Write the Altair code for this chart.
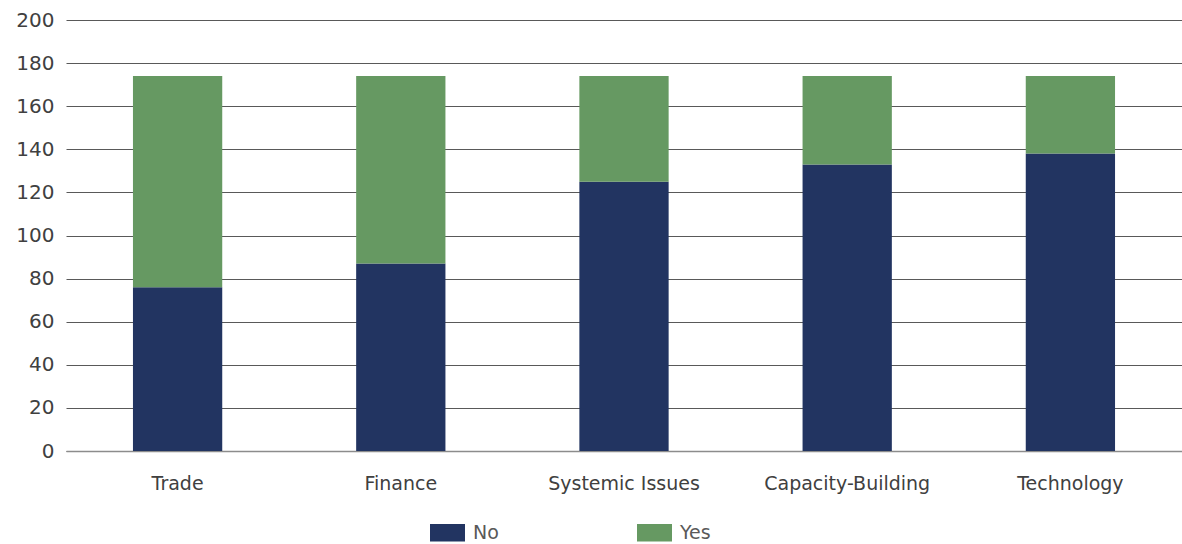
import altair as alt
import pandas as pd

categories = ["Trade", "Finance", "Systemic Issues", "Capacity-Building", "Technology"]
no_values = [76, 87, 125, 133, 138]
yes_values = [98, 87, 49, 41, 36]
series = ["No", "Yes"]
colors = ["#223461", "#669962"]
y_ticks = [0, 20, 40, 60, 80, 100, 120, 140, 160, 180, 200]

rows = []
for c, n, y in zip(categories, no_values, yes_values):
    rows.append({"category": c, "series": "No", "value": n, "ord": 0})
    rows.append({"category": c, "series": "Yes", "value": y, "ord": 1})
df = pd.DataFrame(rows)

FONT = "DejaVu Sans"

chart = alt.Chart(df).mark_bar().encode(
    x=alt.X("category:N", sort=categories, title=None,
            scale=alt.Scale(paddingInner=0.6, paddingOuter=0.3),
            axis=alt.Axis(labelAngle=0, labelFontSize=19, labelColor="#404040",
                          labelFont=FONT, labelPadding=23, ticks=False,
                          domainColor="#8c8c8c", domainWidth=1.5, grid=False)),
    y=alt.Y("value:Q", stack="zero", title=None,
            scale=alt.Scale(domain=[0, 200], nice=False),
            axis=alt.Axis(values=y_ticks, labelFontSize=20, labelColor="#404040",
                          labelFont=FONT, labelPadding=12, ticks=False, domain=False,
                          gridColor="#595959", gridWidth=1, gridOpacity=1)),
    color=alt.Color("series:N", sort=series,
                    scale=alt.Scale(domain=series, range=colors),
                    legend=alt.Legend(title=None, orient="none", direction="horizontal",
                                      legendX=364, legendY=495,
                                      symbolType="M-1,-0.5L1,-0.5L1,0.5L-1,0.5Z",
                                      symbolSize=1225, symbolOpacity=1,
                                      symbolStrokeWidth=0,
                                      labelFontSize=19, labelColor="#595959",
                                      labelFont=FONT, columnPadding=138,
                                      labelOffset=8)),
    order=alt.Order("ord:Q"),
).properties(
    width=1116, height=431,
    autosize=alt.AutoSizeParams(type="none"),
    padding={"left": 66, "top": 20, "right": 0, "bottom": 93},
).configure(background="white").configure_view(stroke=None)

chart.save("out.html", embed_options={"renderer": "svg", "actions": False})
